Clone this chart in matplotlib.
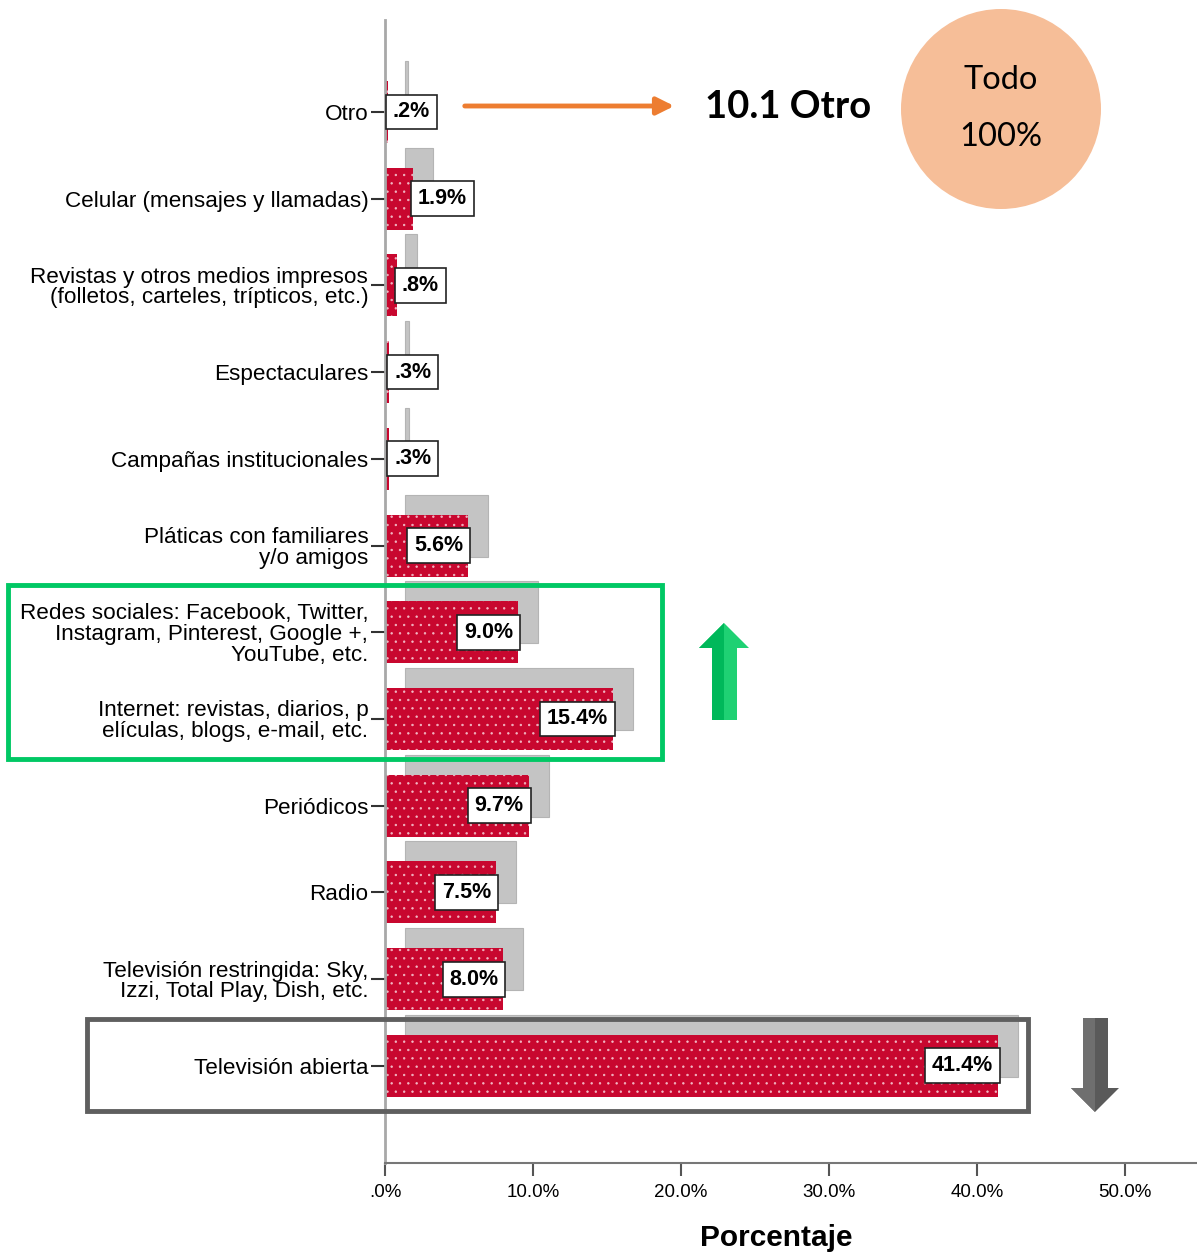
import matplotlib.pyplot as plt
import matplotlib.patches as mpatches
from matplotlib.transforms import Affine2D
import numpy as np

# data, top to bottom as in the chart
categorias = [
    "Otro",
    "Celular (mensajes y llamadas)",
    "Revistas y otros medios impresos\n(folletos, carteles, trípticos, etc.)",
    "Espectaculares",
    "Campañas institucionales",
    "Pláticas con familiares\ny/o amigos",
    "Redes sociales: Facebook, Twitter,\nInstagram, Pinterest, Google +,\nYouTube, etc.",
    "Internet: revistas, diarios, p\nelículas, blogs, e-mail, etc.",
    "Periódicos",
    "Radio",
    "Televisión restringida: Sky,\nIzzi, Total Play, Dish, etc.",
    "Televisión abierta",
]
porcentajes = [0.2, 1.9, 0.8, 0.3, 0.3, 5.6, 9.0, 15.4, 9.7, 7.5, 8.0, 41.4]
xticks = [0, 10, 20, 30, 40, 50]
xtick_labels = [".0%", "10.0%", "20.0%", "30.0%", "40.0%", "50.0%"]

W, H = 1197, 1252
NARROW = ["Liberation Sans Narrow", "Liberation Sans", "DejaVu Sans"]
ARIAL = ["Liberation Sans", "DejaVu Sans"]
plt.rcParams["font.family"] = ARIAL
plt.rcParams["hatch.linewidth"] = 0.5

fig = plt.figure(figsize=(W / 100, H / 100), dpi=100)
ax = fig.add_axes([385 / W, 1 - 1163 / H, 1 - 385 / W, (1163 - 20) / H])

n = len(categorias)
y = np.arange(n)[::-1]
alto = 0.715

# grey shadow bars (offset right/up), then red bars
ax.barh(y + 0.23, porcentajes, left=1.35, height=alto, color="#c4c4c4",
        edgecolor="#b4b4b4", linewidth=0.8, zorder=1)
ax.barh(y, porcentajes, height=alto, color="#c8072f", edgecolor="#f2b8c4",
        linewidth=0, hatch="..", zorder=2)

# boxed value labels
for yi, v in zip(y, porcentajes):
    txt = f"{v:.1f}%"
    if txt.startswith("0"):
        txt = txt[1:]
    if v > 4.5:
        ha, dx = "right", -3.5
    else:
        ha, dx = "left", 3.5
    ax.annotate(txt, (v, yi), xytext=(dx, 0), textcoords="offset points",
                ha=ha, va="center", fontsize=15.5, fontweight="bold",
                family=NARROW, zorder=4,
                bbox=dict(boxstyle="square,pad=0.32", fc="white", ec="#222222", lw=1.2))

ax.set_xlim(0, (W - 385) / 14.8)
ax.set_ylim(-1.12, n - 1 + 1.06)
ax.set_yticks(y, categorias, fontsize=16.2)
for lab in ax.get_yticklabels():
    lab.set_linespacing(0.97)
ax.set_xticks(xticks, xtick_labels, fontsize=13.5, family=NARROW)
ax.tick_params(axis="y", length=10, width=1.5, color="#333333", pad=2)
ax.tick_params(axis="x", length=9, width=1.5, color="#555555", pad=6)
for s in ["top", "right"]:
    ax.spines[s].set_visible(False)
ax.spines["left"].set_color("#a8a8a8")
ax.spines["left"].set_linewidth(2)
ax.spines["bottom"].set_color("#777777")
ax.spines["bottom"].set_linewidth(1.5)

fig.text(776 / W, 1 - 1238 / H, "Porcentaje", ha="center", va="center",
         fontsize=21.5, fontweight="bold")

# annotations in pixel coordinates (origin top-left)
px = Affine2D().scale(1 / W, -1 / H).translate(0, 1) + fig.transFigure

fig.add_artist(mpatches.FancyArrowPatch((462, 106), (677, 106), transform=px,
                                        arrowstyle="-|>", mutation_scale=26,
                                        color="#ed7d31", lw=3.5))
fig.text(788, 107, "10.1 Otro", transform=px, ha="center", va="center",
         fontsize=27.5, fontweight="bold", family=["Lato", "DejaVu Sans"])

fig.add_artist(mpatches.Circle((1001, 109), 100, transform=px, fc="#f6be98", ec="none"))
fig.text(1001, 80, "Todo", transform=px, ha="center", va="center", fontsize=23.5,
         family=["Lato", "DejaVu Sans"])
fig.text(1001, 137, "100%", transform=px, ha="center", va="center", fontsize=23.5,
         family=["Lato", "DejaVu Sans"])

fig.add_artist(mpatches.Rectangle((8, 585), 654, 174, transform=px, fill=False,
                                  ec="#00c864", lw=3.5))
fig.add_artist(mpatches.Rectangle((87, 1019), 941, 92, transform=px, fill=False,
                                  ec="#5f5f5f", lw=3.5))

# green up arrow
flecha_verde = [(724, 623), (749, 648), (737, 648), (737, 720), (712, 720),
                (712, 648), (699, 648)]
fig.add_artist(mpatches.Polygon(flecha_verde, closed=True, transform=px,
                                fc="#1fd173", ec="none"))
fig.add_artist(mpatches.Polygon([(724, 623), (699, 648), (712, 648), (712, 720),
                                 (724, 720), (724, 648)], closed=True,
                                transform=px, fc="#00b85a", ec="none"))

# grey down arrow
flecha_gris = [(1083, 1018), (1108, 1018), (1108, 1088), (1119, 1088),
               (1095, 1112), (1071, 1088), (1083, 1088)]
fig.add_artist(mpatches.Polygon(flecha_gris, closed=True, transform=px,
                                fc="#5a5a5a", ec="none"))
fig.add_artist(mpatches.Polygon([(1083, 1018), (1095, 1018), (1095, 1112),
                                 (1071, 1088), (1083, 1088)], closed=True,
                                transform=px, fc="#6f6f6f", ec="none"))

fig.savefig("out.png", dpi=100)
